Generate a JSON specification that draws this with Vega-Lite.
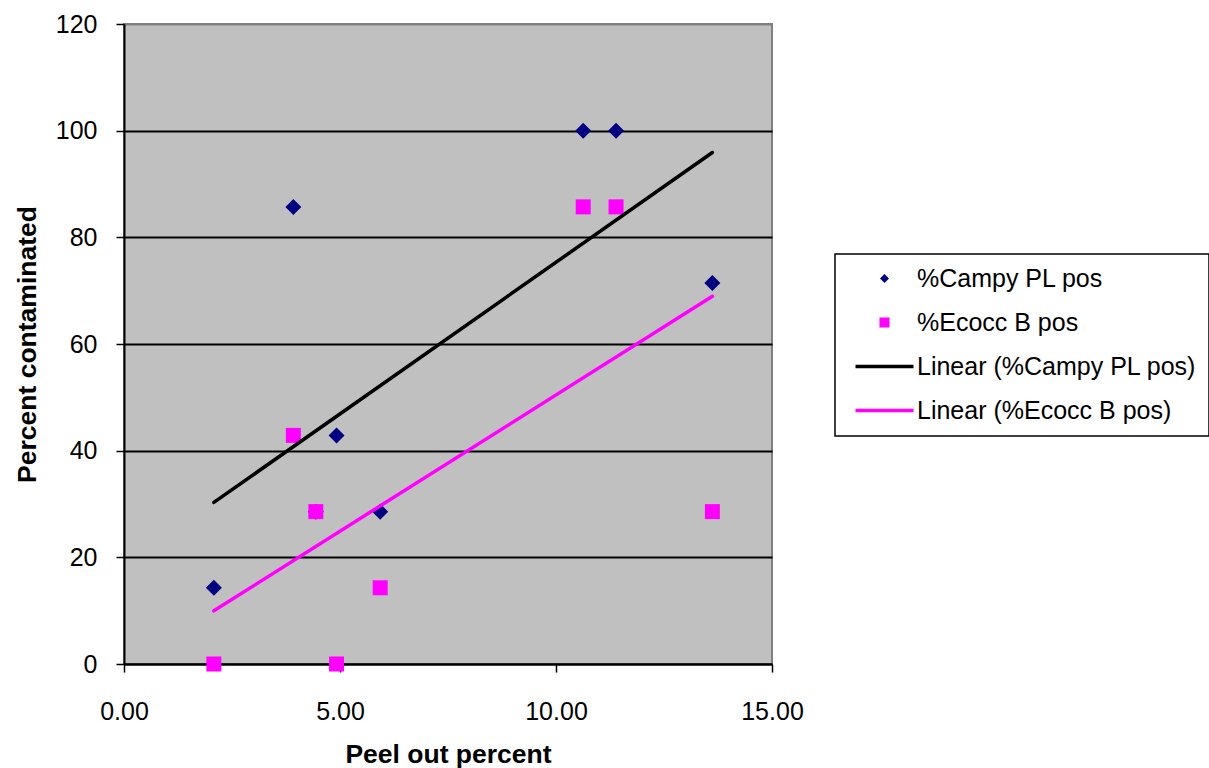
{
  "$schema": "https://vega.github.io/schema/vega-lite/v6.json",
  "width": 648,
  "height": 640,
  "autosize": {"type": "none"},
  "padding": {"left": 124, "top": 24, "right": 437, "bottom": 104},
  "background": "white",
  "config": {
    "view": {"fill": "#C0C0C0", "stroke": "#808080", "strokeWidth": 2},
    "font": "Liberation Sans",
    "axis": {
      "labelFont": "Liberation Sans",
      "titleFont": "Liberation Sans",
      "labelColor": "black",
      "titleColor": "black",
      "domainColor": "black",
      "domainWidth": 2,
      "tickColor": "black",
      "tickWidth": 1.5,
      "tickSize": 8,
      "labelFontSize": 25,
      "titleFontSize": 26.5,
      "titleFontWeight": "bold"
    },
    "legend": {
      "orient": "none",
      "legendX": 711,
      "legendY": 230,
      "direction": "vertical",
      "strokeColor": "black",
      "strokeWidth": 1.5,
      "fillColor": "white",
      "padding": 12,
      "labelFont": "Liberation Sans",
      "labelFontSize": 25,
      "labelColor": "black",
      "labelLimit": 400,
      "symbolSize": 400,
      "symbolOffset": 25,
      "symbolOpacity": 1,
      "symbolStrokeWidth": 0,
      "rowPadding": 18,
      "labelOffset": 20
    }
  },
  "data": {
    "values": [
      {"x": 2.08, "y": 14.29, "series": "%Campy PL pos"},
      {"x": 3.92, "y": 85.71, "series": "%Campy PL pos"},
      {"x": 4.44, "y": 28.57, "series": "%Campy PL pos"},
      {"x": 4.92, "y": 42.86, "series": "%Campy PL pos"},
      {"x": 5.93, "y": 28.57, "series": "%Campy PL pos"},
      {"x": 10.63, "y": 100, "series": "%Campy PL pos"},
      {"x": 11.39, "y": 100, "series": "%Campy PL pos"},
      {"x": 13.62, "y": 71.43, "series": "%Campy PL pos"},
      {"x": 2.08, "y": 0, "series": "%Ecocc B pos"},
      {"x": 3.92, "y": 42.86, "series": "%Ecocc B pos"},
      {"x": 4.44, "y": 28.57, "series": "%Ecocc B pos"},
      {"x": 4.92, "y": 0, "series": "%Ecocc B pos"},
      {"x": 5.93, "y": 14.29, "series": "%Ecocc B pos"},
      {"x": 10.63, "y": 85.71, "series": "%Ecocc B pos"},
      {"x": 11.39, "y": 85.71, "series": "%Ecocc B pos"},
      {"x": 13.62, "y": 28.57, "series": "%Ecocc B pos"}
    ]
  },
  "layer": [
    {
      "mark": {"type": "point", "filled": true, "opacity": 1, "strokeWidth": 0},
      "encoding": {
        "x": {
          "field": "x",
          "type": "quantitative",
          "scale": {"domain": [0, 15], "nice": false, "zero": false},
          "axis": {
            "title": "Peel out percent",
            "values": [0, 5, 10, 15],
            "format": ".2f",
            "grid": false,
            "labelFlush": false,
            "labelPadding": 27,
            "titlePadding": 17
          }
        },
        "y": {
          "field": "y",
          "type": "quantitative",
          "scale": {"domain": [0, 120], "nice": false},
          "axis": {
            "title": "Percent contaminated",
            "values": [0, 20, 40, 60, 80, 100, 120],
            "grid": true,
            "gridColor": {"condition": {"test": "datum.value === 120", "value": "#808080"}, "value": "black"},
            "gridWidth": 2,
            "gridOpacity": 1,
            "labelPadding": 19,
            "titlePadding": 14
          }
        },
        "color": {
          "field": "series",
          "type": "nominal",
          "scale": {
            "domain": ["%Campy PL pos", "%Ecocc B pos", "Linear (%Campy PL pos)", "Linear (%Ecocc B pos)"],
            "range": ["#000080", "#FF00FF", "#000000", "#FF00FF"]
          },
          "legend": {"title": null}
        },
        "shape": {
          "field": "series",
          "type": "nominal",
          "scale": {
            "domain": ["%Campy PL pos", "%Ecocc B pos", "Linear (%Campy PL pos)", "Linear (%Ecocc B pos)"],
            "range": [
              "M-0.45,0L0,-0.45L0.45,0L0,0.45Z",
              "M-0.5,-0.5L0.5,-0.5L0.5,0.5L-0.5,0.5Z",
              "M-2.9,-0.175L2.9,-0.175L2.9,0.175L-2.9,0.175Z",
              "M-2.9,-0.175L2.9,-0.175L2.9,0.175L-2.9,0.175Z"
            ]
          },
          "legend": {"title": null}
        },
        "size": {"condition": {"test": "datum.series === '%Campy PL pos'", "value": 1264}, "value": 900}
      }
    },
    {
      "transform": [{"filter": "datum.series === '%Campy PL pos'"}, {"regression": "y", "on": "x"}],
      "mark": {"type": "line", "strokeWidth": 3.5, "strokeCap": "round"},
      "encoding": {
        "x": {"field": "x", "type": "quantitative"},
        "y": {"field": "y", "type": "quantitative"},
        "color": {"datum": "Linear (%Campy PL pos)", "legend": null}
      }
    },
    {
      "transform": [{"filter": "datum.series === '%Ecocc B pos'"}, {"regression": "y", "on": "x"}],
      "mark": {"type": "line", "strokeWidth": 3.5, "strokeCap": "round"},
      "encoding": {
        "x": {"field": "x", "type": "quantitative"},
        "y": {"field": "y", "type": "quantitative"},
        "color": {"datum": "Linear (%Ecocc B pos)", "legend": null}
      }
    }
  ]
}
